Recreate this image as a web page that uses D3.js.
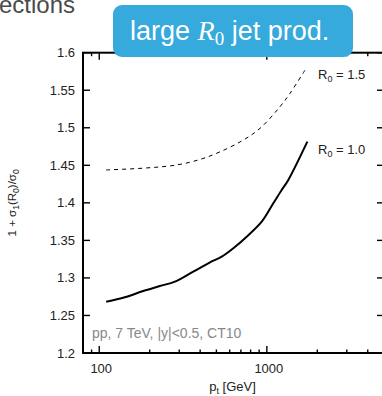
<!DOCTYPE html>
<html><head><meta charset="utf-8">
<script src="https://cdn.jsdelivr.net/npm/d3@7"></script>
<style>body{margin:0;background:#fff}svg{display:block}</style>
</head><body>
<script>
const ptSolid = [110,142,183,230,283,364,458,538,631,758,932,1093,1226,1343,1744];
const valSolid = [1.2683,1.2742,1.2826,1.2892,1.2950,1.3083,1.3208,1.3283,1.3395,1.3549,1.3749,1.3994,1.4171,1.4305,1.4815];
const ptDash = [110,192,290,399,526,724,911,1198,1375,1690];
const valDash = [1.4438,1.4465,1.4505,1.4578,1.4680,1.4837,1.4993,1.5281,1.5459,1.5769];
const yTicks = [1.2,1.25,1.3,1.35,1.4,1.45,1.5,1.55,1.6];
const yTickLabels = ["1.2","1.25","1.3","1.35","1.4","1.45","1.5","1.55","1.6"];
const xMajor = [100,1000];
const xMajorLabels = ["100","1000"];
const xMinor = [80,90,200,300,400,500,600,700,800,900,2000,3000,4000,5000];

const W=382,H=396;
const L=83,R=384,T=52.7,B=353;
const svg=d3.select("body").append("svg").attr("width",W).attr("height",H);
const x=d3.scaleLog().domain([80,5000]).range([L,R]);
const y=d3.scaleLinear().domain([1.2,1.6]).range([B,T]);
const font="'Liberation Sans', Arial, Helvetica, sans-serif";
const serif="'Liberation Serif','DejaVu Serif',serif";

// title fragment (cut off at the top, as in the reference)
svg.append("text").attr("x",-1).attr("y",13).attr("font-family",font).attr("font-size",24).attr("fill","#4a4a4a").text("ections");

// ticks
const g=svg.append("g").attr("stroke","#000").attr("stroke-width",1.4);
yTicks.forEach(v=>{
  g.append("line").attr("x1",L).attr("x2",L+7).attr("y1",y(v)).attr("y2",y(v));
  g.append("line").attr("x1",R).attr("x2",R-7).attr("y1",y(v)).attr("y2",y(v));
});
xMajor.forEach(v=>{
  g.append("line").attr("x1",x(v)).attr("x2",x(v)).attr("y1",B).attr("y2",B-7);
  g.append("line").attr("x1",x(v)).attr("x2",x(v)).attr("y1",T).attr("y2",T+7);
});
xMinor.forEach(v=>{
  g.append("line").attr("x1",x(v)).attr("x2",x(v)).attr("y1",B).attr("y2",B-3.5);
  g.append("line").attr("x1",x(v)).attr("x2",x(v)).attr("y1",T).attr("y2",T+3.5);
});
svg.append("rect").attr("x",L).attr("y",T).attr("width",R-L).attr("height",B-T)
  .attr("fill","none").attr("stroke","#000").attr("stroke-width",2);

// tick labels
yTicks.forEach((v,i)=>{
  svg.append("text").attr("x",75).attr("y",y(v)+4.5).attr("text-anchor","end")
    .attr("font-family",font).attr("font-size",13).attr("fill","#222").text(yTickLabels[i]);
});
xMajor.forEach((v,i)=>{
  svg.append("text").attr("x",x(v)+2).attr("y",373).attr("text-anchor","middle")
    .attr("font-family",font).attr("font-size",13).attr("fill","#222").text(xMajorLabels[i]);
});

// axis titles
const xt=svg.append("text").attr("x",(L+R)/2-1).attr("y",391).attr("text-anchor","middle")
  .attr("font-family",font).attr("font-size",13).attr("fill","#222");
xt.append("tspan").text("p");
xt.append("tspan").attr("font-size",9).attr("dy",3).text("t");
xt.append("tspan").attr("dy",-3).text(" [GeV]");

const yt=svg.append("text").attr("transform",`translate(16,${(T+B)/2}) rotate(-90)`).attr("text-anchor","middle")
  .attr("font-family",font).attr("font-size",11.5).attr("fill","#222");
yt.append("tspan").text("1 + σ");
yt.append("tspan").attr("font-size",8.5).attr("dy",3).text("1");
yt.append("tspan").attr("dy",-3).text("(R");
yt.append("tspan").attr("font-size",8.5).attr("dy",3).text("0");
yt.append("tspan").attr("dy",-3).text(")/σ");
yt.append("tspan").attr("font-size",8.5).attr("dy",3).text("0");

// curves
const line=d3.line().x(d=>x(d[0])).y(d=>y(d[1])).curve(d3.curveCatmullRom.alpha(0.5));
svg.append("path").datum(ptSolid.map((p,i)=>[p,valSolid[i]])).attr("d",line)
  .attr("fill","none").attr("stroke","#000").attr("stroke-width",2);
svg.append("path").datum(ptDash.map((p,i)=>[p,valDash[i]])).attr("d",line)
  .attr("fill","none").attr("stroke","#000").attr("stroke-width",1).attr("stroke-dasharray","4,4");

// curve labels
function rlab(yy,val){
  const t=svg.append("text").attr("x",318).attr("y",yy).attr("font-family",font).attr("font-size",13).attr("fill","#222");
  t.append("tspan").text("R");
  t.append("tspan").attr("font-size",9).attr("dy",3).text("0");
  t.append("tspan").attr("dy",-3).text(" = "+val);
}
rlab(79,"1.5");
rlab(154,"1.0");

// annotation
svg.append("text").attr("x",92).attr("y",338).attr("font-family",font).attr("font-size",14).attr("fill","#888")
  .text("pp, 7 TeV, |y|<0.5, CT10");

// blue box
svg.append("rect").attr("x",113).attr("y",5).attr("width",240).attr("height",52).attr("rx",9)
  .attr("fill","#36aadc");
const bt=svg.append("text").attr("x",130).attr("y",40).attr("font-family",font).attr("font-size",27).attr("fill","#fff");
bt.append("tspan").text("large ");
bt.append("tspan").attr("font-family",serif).attr("font-style","italic").attr("font-size",28).text("R");
bt.append("tspan").attr("font-family",serif).attr("font-size",19).attr("dy",5).text("0");
bt.append("tspan").attr("dy",-5).text(" jet prod.");
</script>
</body></html>
